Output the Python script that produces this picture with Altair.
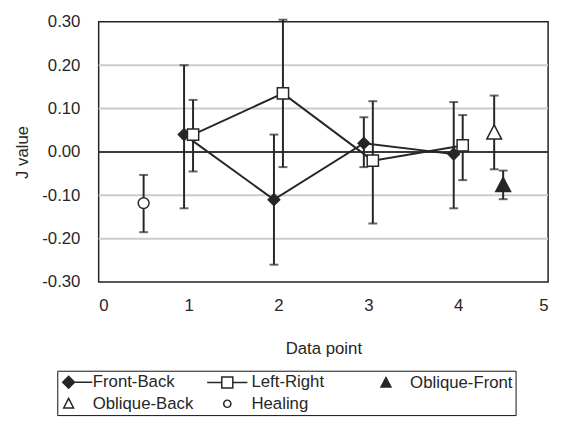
import altair as alt
import pandas as pd

# ---- data ----
series_names = ["Front-Back", "Left-Right", "Oblique-Front", "Oblique-Back", "Healing"]

fb_x = [0.95, 1.95, 2.95, 3.95]
fb_y = [0.04, -0.11, 0.02, -0.005]
fb_hi = [0.20, 0.04, 0.08, 0.115]
fb_lo = [-0.13, -0.26, -0.035, -0.13]

lr_x = [1.05, 2.05, 3.05, 4.05]
lr_y = [0.04, 0.135, -0.02, 0.015]
lr_hi = [0.12, 0.305, 0.117, 0.085]
lr_lo = [-0.045, -0.035, -0.165, -0.065]

of_x = [4.5]
of_y = [-0.077]
of_hi = [-0.043]
of_lo = [-0.109]

ob_x = [4.4]
ob_y = [0.044]
ob_hi = [0.13]
ob_lo = [-0.04]

h_x = [0.5]
h_y = [-0.118]
h_hi = [-0.053]
h_lo = [-0.185]

grid_values = [-0.2, -0.1, 0.1, 0.2]
y_ticks = [-0.3, -0.2, -0.1, 0.0, 0.1, 0.2, 0.3]
x_ticks = [0, 1, 2, 3, 4, 5]

# ---- tables ----
def frame(name, xs, ys, his, los):
    return pd.DataFrame({"series": name, "x": xs, "y": ys, "hi": his, "lo": los})

fb = frame("Front-Back", fb_x, fb_y, fb_hi, fb_lo)
lr = frame("Left-Right", lr_x, lr_y, lr_hi, lr_lo)
of = frame("Oblique-Front", of_x, of_y, of_hi, of_lo)
ob = frame("Oblique-Back", ob_x, ob_y, ob_hi, ob_lo)
he = frame("Healing", h_x, h_y, h_hi, h_lo)
alld = pd.concat([fb, lr, of, ob, he], ignore_index=True)
caps = pd.concat([
    alld[["x", "hi"]].rename(columns={"hi": "v"}),
    alld[["x", "lo"]].rename(columns={"lo": "v"}),
], ignore_index=True)
others = pd.concat([of, ob, he], ignore_index=True)
grid_df = pd.DataFrame({"g": grid_values})

FONT = "Liberation Sans"
INK = "#262626"
FS = 17

xs = alt.Scale(domain=[0, 5], nice=False)
ys = alt.Scale(domain=[-0.3, 0.3], nice=False)

X = lambda f="x": alt.X(f"{f}:Q", scale=xs, axis=alt.Axis(
    values=x_ticks, format="d", title="Data point", grid=False, ticks=False,
    domain=False, labelPadding=16, titlePadding=28))
Y = lambda f="y": alt.Y(f"{f}:Q", scale=ys, axis=alt.Axis(
    values=y_ticks, format=".2f", labelExpr="replace(datum.label, '\u2212', '-')",
    title="J value", grid=False, ticks=False,
    domain=False, labelPadding=19, titlePadding=10))

grid = alt.Chart(grid_df).mark_rule(color="#cccccc", strokeWidth=2).encode(y=Y("g"))
zero = alt.Chart(grid_df).mark_rule(color="#3a3a3a", strokeWidth=1.5).encode(
    y=alt.datum(0, scale=ys)
)

fb_line = alt.Chart(fb).mark_line(color=INK, strokeWidth=2).encode(x=X(), y=Y())
lr_line = alt.Chart(lr).mark_line(color=INK, strokeWidth=2).encode(x=X(), y=Y())

err = alt.Chart(alld).mark_rule(color=INK, strokeWidth=2).encode(
    x=X(), y=Y("lo"), y2="hi:Q"
)
cap = alt.Chart(caps).mark_tick(color=INK, orient="horizontal", size=9, thickness=2).encode(
    x=X(), y=Y("v")
)

fb_pts = alt.Chart(fb).mark_point(shape="diamond", filled=True, color=INK, size=190, opacity=1).encode(
    x=X(), y=Y()
)
lr_pts = alt.Chart(lr).mark_point(shape="square", filled=True, fill="white", stroke=INK,
                                  strokeWidth=1.5, size=130, opacity=1).encode(x=X(), y=Y())

# legend symbol paths (unit = half of the nominal symbol width, 4 px in the legend)
paths = [
    "M-1.5,0 L6,0 M-1.5,0 L0,-1.5 L1.5,0 L0,1.5 Z",
    "M-5.1,0 L-1.4,0 M1.4,0 L5.1,0 M-1.4,-1.4 L1.4,-1.4 L1.4,1.4 L-1.4,1.4 Z",
    "M0,-1.35 L1.25,1.05 L-1.25,1.05 Z",
    "M0,-1.35 L1.25,1.05 L-1.25,1.05 Z",
    "M0.92,0 A0.92,0.92 0 1,1 -0.92,0 A0.92,0.92 0 1,1 0.92,0 Z",
]
fills = [INK, "white", INK, "white", "white"]
strokes = [INK] * 5

leg = alt.Legend(
    title=None, orient="none", legendX=-42, legendY=354, columns=3, direction="horizontal",
    gridAlign="all", columnPadding=9, rowPadding=3, padding=3,
    strokeColor="#111111", fillColor="white",
    labelFont=FONT, labelFontSize=FS, labelColor=INK, labelOffset=16,
    symbolSize=64, symbolStrokeWidth=1.5, symbolOpacity=1,
)

other_pts = alt.Chart(others).mark_point(strokeWidth=1.5, size=144, opacity=1).encode(
    x=X(), y=Y(),
    shape=alt.Shape("series:N", scale=alt.Scale(domain=series_names, range=paths), legend=leg),
    fill=alt.Fill("series:N", scale=alt.Scale(domain=series_names, range=fills), legend=leg),
    stroke=alt.Stroke("series:N", scale=alt.Scale(domain=series_names, range=strokes), legend=leg),
)

chart = alt.layer(
    grid, zero, fb_line, lr_line, err, cap, fb_pts, lr_pts, other_pts
).properties(
    width=456, height=264,
    autosize=alt.AutoSizeParams(type="none"),
    padding={"left": 92, "top": 11, "right": 7, "bottom": 141},
).configure_view(
    stroke="#222222", strokeWidth=1.5
).configure_axis(
    labelFont=FONT, labelFontSize=FS, labelColor=INK,
    titleFont=FONT, titleFontSize=FS, titleFontWeight="normal", titleColor=INK,
)

chart.save("out.html", embed_options={"renderer": "svg", "actions": False})
